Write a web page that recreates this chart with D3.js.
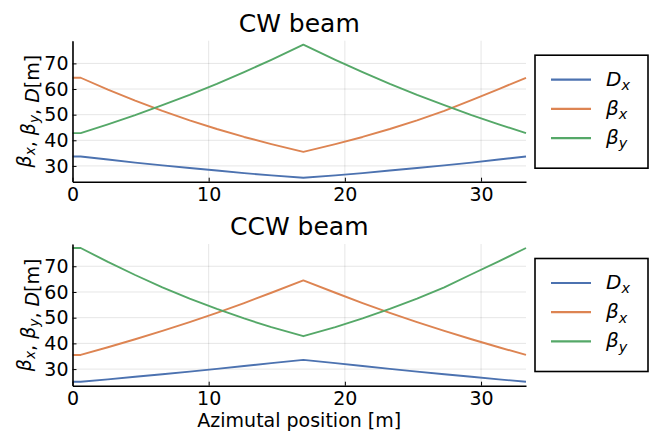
<!DOCTYPE html>
<html>
<head>
<meta charset="utf-8">
<script src="https://cdn.jsdelivr.net/npm/d3@7"></script>
<style>
  body { margin: 0; background: #fff; }
  svg { font-family: "DejaVu Sans", sans-serif; }
</style>
</head>
<body>
<div class="chart"></div>
<script>
// azimutal positions [m]
const s = [0, 0.6, 2.6, 4.6, 6.6, 8.6, 10.6, 12.6, 14.6, 16.95, 19.3, 21.3, 23.3, 25.3, 27.3, 29.3, 31.3, 33.3];

// CW beam
const cwDx = [33.7, 33.7, 32.5, 31.3, 30.2, 29.2, 28.2, 27.2, 26.3, 25.4, 26.3, 27.2, 28.2, 29.2, 30.2, 31.3, 32.5, 33.7];
const cwBx = [64.4, 64.4, 59.8, 55.5, 51.5, 47.8, 44.4, 41.3, 38.5, 35.5, 38.5, 41.3, 44.4, 47.8, 51.5, 55.7, 60.0, 64.4];
const cwBy = [42.8, 42.8, 46.2, 49.8, 53.7, 57.7, 62.0, 66.6, 71.4, 77.3, 71.4, 66.6, 62.0, 57.7, 53.7, 49.8, 46.2, 42.8];

// CCW beam
const ccwDx = [25.1, 25.1, 26.0, 27.0, 28.0, 29.0, 30.1, 31.2, 32.3, 33.6, 32.3, 31.2, 30.1, 29.0, 28.0, 27.0, 26.0, 25.1];
const ccwBx = [35.5, 35.5, 38.5, 41.6, 44.9, 48.3, 51.9, 55.7, 59.7, 64.5, 59.7, 55.7, 51.9, 48.3, 44.9, 41.6, 38.5, 35.5];
const ccwBy = [77.1, 77.1, 71.7, 66.6, 61.8, 57.4, 53.4, 49.7, 46.3, 42.8, 46.3, 49.7, 53.4, 57.4, 61.8, 66.9, 71.9, 77.1];

const xTicks = [0, 10, 20, 30];
const yTicks = [30, 40, 50, 60, 70];
const seriesNames = [["D", "x"], ["β", "x"], ["β", "y"]];
const colors = ["#4C72B0", "#DD8452", "#55A868"];

const width = 654;
const height = 434;
const left = 72.5;
const right = 526;
const fontSize = 19;

const svg = d3.select(".chart").append("svg")
  .attr("width", width)
  .attr("height", height);

const x = d3.scaleLinear()
  .domain(d3.extent(s))
  .range([left, right]);

function subLabel(sel, parts) {
  // math style label: italic letter with italic subscript
  sel.append("tspan").style("font-style", "italic").text(parts[0]);
  sel.append("tspan").style("font-style", "italic")
    .style("font-size", "0.72em")
    .attr("dy", "0.3em")
    .text(parts[1]);
  sel.append("tspan").attr("dy", "-0.216em").text("");
}

function drawPanel(title, data, top, bottom) {
  const all = d3.merge(data);
  const ext = d3.extent(all);
  const pad = (ext[1] - ext[0]) * 0.03;
  const y = d3.scaleLinear()
    .domain([ext[0] - pad, ext[1] + pad])
    .range([bottom, top]);

  const g = svg.append("g");

  // grid
  g.selectAll(".gx").data(xTicks).enter().append("line")
    .attr("x1", d => x(d)).attr("x2", d => x(d))
    .attr("y1", top).attr("y2", bottom)
    .attr("stroke", "#000").attr("stroke-opacity", 0.1).attr("stroke-width", 1);
  g.selectAll(".gy").data(yTicks).enter().append("line")
    .attr("x1", left).attr("x2", right)
    .attr("y1", d => y(d)).attr("y2", d => y(d))
    .attr("stroke", "#000").attr("stroke-opacity", 0.1).attr("stroke-width", 1);

  // lines
  const line = d3.line()
    .x((d, i) => x(s[i]))
    .y(d => y(d));
  data.forEach(function(vals, k) {
    g.append("path")
      .datum(vals)
      .attr("d", line)
      .attr("fill", "none")
      .attr("stroke", colors[k])
      .attr("stroke-width", 1.9)
      .attr("stroke-linejoin", "round");
  });

  // axes
  const xAxis = g.append("g")
    .attr("transform", "translate(0," + bottom + ")")
    .call(d3.axisBottom(x).tickValues(xTicks).tickSize(-4).tickPadding(6).tickSizeOuter(0));
  const yAxis = g.append("g")
    .attr("transform", "translate(" + left + ",0)")
    .call(d3.axisLeft(y).tickValues(yTicks).tickSize(-4).tickPadding(4).tickSizeOuter(0));
  [xAxis, yAxis].forEach(function(ax) {
    ax.select(".domain").attr("stroke", "#000").attr("stroke-width", 1.6);
    ax.selectAll(".tick line").attr("stroke", "#000").attr("stroke-width", 1);
    ax.selectAll(".tick text")
      .style("font-family", "DejaVu Sans")
      .style("font-size", fontSize + "px")
      .attr("fill", "#000");
  });

  // title
  g.append("text")
    .attr("x", (left + right) / 2)
    .attr("y", top - 9)
    .attr("text-anchor", "middle")
    .style("font-size", "25px")
    .text(title);

  // y label
  const yl = g.append("text")
    .attr("transform", "translate(31," + ((top + bottom) / 2) + ") rotate(-90)")
    .attr("text-anchor", "middle")
    .style("font-size", fontSize + "px");
  subLabel(yl, ["β", "x"]);
  yl.append("tspan").text(", ");
  subLabel(yl, ["β", "y"]);
  yl.append("tspan").text(", ");
  yl.append("tspan").style("font-style", "italic").text("D");
  yl.append("tspan").text("[m]");

  // legend
  const lg = g.append("g")
    .attr("transform", "translate(535," + (top + 14.5) + ")");
  lg.append("rect")
    .attr("width", 113).attr("height", 113)
    .attr("fill", "#fff").attr("stroke", "#000").attr("stroke-width", 1.6);
  seriesNames.forEach(function(name, k) {
    const yy = 24.5 + k * 29.2;
    lg.append("line")
      .attr("x1", 16).attr("x2", 56)
      .attr("y1", yy).attr("y2", yy)
      .attr("stroke", colors[k]).attr("stroke-width", 2.2);
    const t = lg.append("text")
      .attr("x", 71).attr("y", yy + 6)
      .style("font-size", "20px");
    subLabel(t, name);
  });
}

drawPanel("CW beam", [cwDx, cwBx, cwBy], 40.7, 181.7);
drawPanel("CCW beam", [ccwDx, ccwBx, ccwBy], 244, 385.7);

// x label
svg.append("text")
  .attr("x", (left + right) / 2)
  .attr("y", 427)
  .attr("text-anchor", "middle")
  .style("font-size", fontSize + "px")
  .text("Azimutal position [m]");
</script>
</body>
</html>
